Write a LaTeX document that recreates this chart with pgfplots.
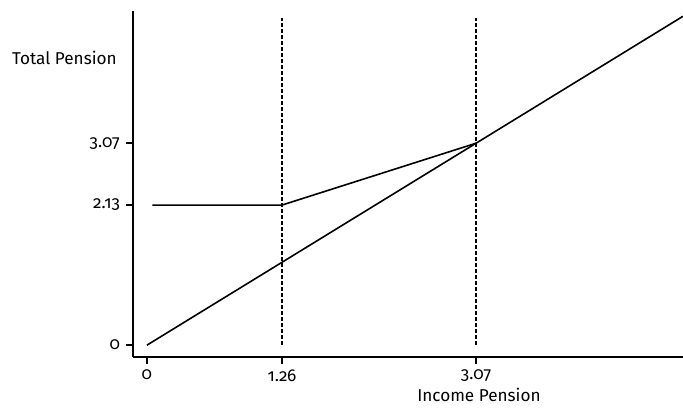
\documentclass[border=0pt]{standalone}
\usepackage{fontspec}
\setmainfont{Fira Sans}[Numbers=OldStyle]
\usepackage{pgfplots}
\pgfplotsset{compat=1.18}
\begin{document}
\fontsize{8.6}{10}\selectfont
\begin{tikzpicture}
\useasboundingbox (-66.5bp,-28bp) rectangle (275bp,178.5bp);
\begin{axis}[
  at={(0,0)}, anchor=south west,
  scale only axis, width=275bp, height=173bp,
  axis lines=left, axis line style={-, line width=1.2bp},
  xmin=-0.13, xmax=5.0, ymin=-0.18, ymax=5.08,
  xtick={0,1.26,3.07}, xticklabels={0,1.26,3.07},
  ytick={0,2.13,3.07}, yticklabels={0,2.13,3.07},
  tick align=outside, major tick length=3.5bp,
  tick style={line width=1.2bp, black},
  ticklabel style={font=\fontsize{8.6}{10}\selectfont},
  clip=false,
]
\addplot[black, line width=0.8bp] coordinates {(0,0) (5,5)};
\addplot[black, line width=0.8bp] coordinates {(0.05,2.13) (1.26,2.13) (3.07,3.07)};
\addplot[black, line width=1bp, dash pattern=on 2bp off 1bp] coordinates {(1.26,0) (1.26,4.97)};
\addplot[black, line width=1bp, dash pattern=on 2bp off 1bp] coordinates {(3.07,0) (3.07,4.97)};
\node[anchor=east, inner sep=0pt] at (rel axis cs:-0.029,0.864) {Total Pension};
\node[anchor=center, inner sep=0pt] at (rel axis cs:0.629,-0.11) {Income Pension};
\end{axis}
\end{tikzpicture}
\end{document}
